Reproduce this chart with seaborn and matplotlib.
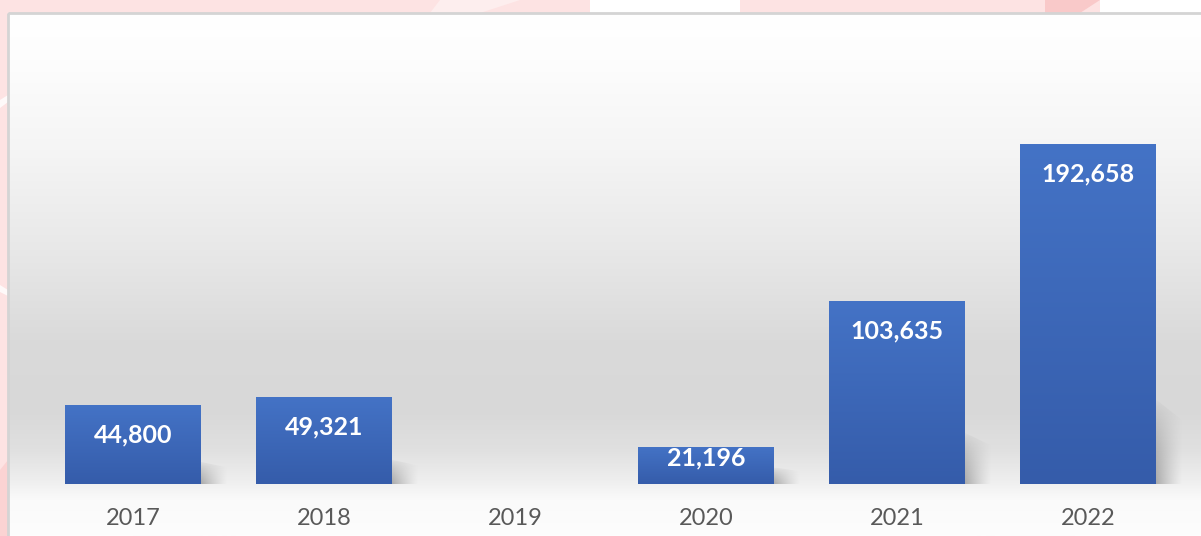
import numpy as np
import pandas as pd
import matplotlib
matplotlib.use("Agg")
import matplotlib.pyplot as plt
from matplotlib.patches import Polygon, Rectangle
import seaborn as sns

# data
years = ["2017", "2018", "2019", "2020", "2021", "2022"]
values = [44800, 49321, 0, 21196, 103635, 192658]

df = pd.DataFrame({"year": years, "value": values})

sns.set_theme(style="white")
plt.rcParams["font.family"] = ["Lato", "DejaVu Sans"]

W, H = 1201, 536
fig = plt.figure(figsize=(W / 100, H / 100), dpi=100)
fig.patch.set_facecolor("#fde3e3")

# background decoration in pixel coordinates
bg = fig.add_axes([0, 0, 1, 1], zorder=0)
bg.set_xlim(0, W)
bg.set_ylim(H, 0)
bg.axis("off")
bg.add_patch(Polygon([[590, 0], [740, 0], [740, 13], [590, 13]], color="white", lw=0))
bg.add_patch(Polygon([[1100, 0], [W, 0], [W, 13], [1100, 13]], color="white", lw=0))
bg.add_patch(Polygon([[1045, 0], [1100, 0], [1080, 13], [1045, 13]], color="#f9c9c9", lw=0))
bg.add_patch(Polygon([[440, 0], [520, 0], [480, 13], [430, 13]], color="#fdeeee", lw=0))
bg.add_patch(Polygon([[0, 100], [8, 95], [8, 102], [0, 108]], color="white", lw=0, alpha=0.8))
bg.add_patch(Polygon([[0, 285], [8, 290], [8, 296], [0, 292]], color="white", lw=0, alpha=0.8))
bg.add_patch(Polygon([[0, 470], [8, 460], [8, 536], [0, 536]], color="#fbd3d3", lw=0))

# chart panel with vertical grey gradient
ys = np.array([13, 60, 150, 250, 340, 410, 450, 480, 500, 536])
gs = np.array([255, 253, 245, 232, 218, 216, 224, 238, 250, 253]) / 255
yy = np.linspace(13, H, 400)
col = np.interp(yy, ys, gs)
grad = np.repeat(col[:, None], 3, axis=1)[:, None, :]
bg.imshow(grad, extent=[8, W, H, 13], aspect="auto", zorder=1)
bg.add_patch(Rectangle((8, 13), W, H, fill=False, ec="#d4d4d4", lw=2, zorder=2))
bg.set_xlim(0, W)
bg.set_ylim(H, 0)

# main axes
ax = fig.add_axes([37.5 / W, 52 / H, 1146 / W, 441 / H], zorder=1)
ax.patch.set_alpha(0)
sns.barplot(data=df, x="year", y="value", order=years, color="#4070c0",
            width=0.71, linewidth=0, ax=ax)
ax.set_ylim(0, 250000)
ax.set_xlim(-0.5, len(years) - 0.5)

top_c = np.array([0x44, 0x73, 0xc6]) / 255
bot_c = np.array([0x35, 0x5c, 0xaa]) / 255
for p, v in zip(ax.patches, values):
    if v <= 0:
        continue
    x0, w, h = p.get_x(), p.get_width(), p.get_height()
    # shadow to the right of the bar
    s = min(h * 0.28, 48000) if h > 30000 else h * 0.45
    dx = 0.14
    n = 60
    u = np.linspace(0, 1, n)
    vv = np.linspace(0, 1, n)
    U, V = np.meshgrid(u, vv)
    rgba = np.zeros((n, n, 4))
    rgba[..., :3] = 0.45
    rgba[..., 3] = 0.55 * (1 - U) ** 1.3 * (1 - V) ** 0.7
    sh = Polygon([[x0 + w, 0], [x0 + w, s], [x0 + w + dx, s * 0.75], [x0 + w + dx, 0]],
                 closed=True, fc="none", ec="none", transform=ax.transData)
    ax.add_patch(sh)
    im = ax.imshow(rgba, extent=[x0 + w, x0 + w + dx, 0, s], origin="lower",
                   aspect="auto", zorder=0.5)
    im.set_clip_path(sh)
    # vertical gradient on the bar
    t = np.linspace(0, 1, 200)[:, None]
    g = bot_c[None, :] * (1 - t) + top_c[None, :] * t
    im2 = ax.imshow(g[:, None, :], extent=[x0, x0 + w, 0, h], origin="lower",
                    aspect="auto", zorder=2)
    im2.set_clip_path(p)
    off = 16800 if v > 2 * 16800 else 0.3 * v
    ax.text(x0 + w / 2, v - off, f"{v:,}", ha="center", va="center", color="white",
            fontsize=18, fontweight="bold", zorder=3)

ax.set_ylim(0, 250000)
ax.set_xlim(-0.5, len(years) - 0.5)
ax.set_xlabel("")
ax.set_ylabel("")
ax.set_yticks([])
ax.tick_params(axis="x", length=0, pad=17, labelsize=17, labelcolor="#595959")
sns.despine(ax=ax, left=True, bottom=True)

fig.savefig("out.png", dpi=100, facecolor=fig.get_facecolor())
